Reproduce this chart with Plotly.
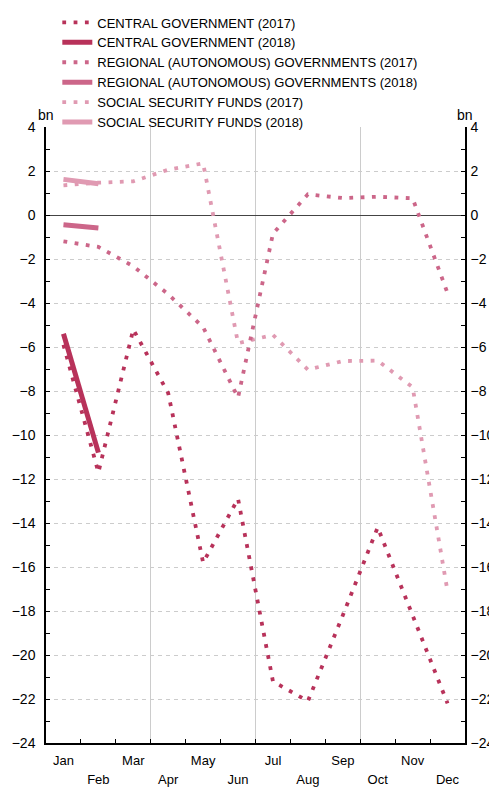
import plotly.graph_objects as go

months = ["Jan", "Feb", "Mar", "Apr", "May", "Jun",
          "Jul", "Aug", "Sep", "Oct", "Nov", "Dec"]

central_2017 = [-5.9, -11.7, -5.2, -8.1, -15.8, -12.9, -21.2, -22.1, -18.2, -14.2, -18.2, -22.2]
central_2018 = [-5.4, -10.8]
regional_2017 = [-1.2, -1.45, -2.33, -3.6, -5.1, -8.3, -0.85, 0.94, 0.77, 0.83, 0.76, -3.55]
regional_2018 = [-0.44, -0.59]
social_2017 = [1.35, 1.47, 1.53, 2.06, 2.35, -5.83, -5.45, -7.03, -6.64, -6.62, -7.83, -17.1]
social_2018 = [1.62, 1.42]

c_central = "#b8325a"
c_regional = "#cc6689"
c_social = "#e09ab2"

dot = "3.8px,7.5px"
font = "Liberation Sans, Arial, sans-serif"

x = list(range(len(months)))

# (name, values, colour, dash, xaxis, yaxis) - the extra axes all share one range,
# spreading the traces over them just makes plotly draw every axis
series = [
    ("CENTRAL GOVERNMENT (2017)", central_2017, c_central, dot, "x", "y"),
    ("CENTRAL GOVERNMENT (2018)", central_2018, c_central, "solid", "x2", "y"),
    ("REGIONAL (AUTONOMOUS) GOVERNMENTS (2017)", regional_2017, c_regional, dot, "x3", "y"),
    ("REGIONAL (AUTONOMOUS) GOVERNMENTS (2018)", regional_2018, c_regional, "solid", "x", "y2"),
    ("SOCIAL SECURITY FUNDS (2017)", social_2017, c_social, dot, "x", "y"),
    ("SOCIAL SECURITY FUNDS (2018)", social_2018, c_social, "solid", "x", "y"),
]

fig = go.Figure()
for name, vals, col, dash, xa, ya in series:
    fig.add_trace(go.Scatter(
        x=x[:len(vals)], y=vals, name=name, mode="lines",
        xaxis=xa, yaxis=ya,
        line=dict(color=col, width=3.8 if dash != "solid" else 5, dash=dash)))

boundaries = [i + 0.5 for i in range(len(months) - 1)]
quarters = [2.5, 5.5, 8.5]
xrange = [-0.5, 11.5]

yaxis_common = dict(
    range=[-24, 4], tick0=0, dtick=2, ticks="inside", ticklen=4,
    tickcolor="black", showline=True, linecolor="black", linewidth=1.5,
    minor=dict(dtick=1, ticks="inside", ticklen=4, tickcolor="black"),
    tickfont=dict(size=14, color="black"),
)

# the page body keeps its 8px margin, so the figure is 8px smaller than the window
fig.update_layout(
    width=489, height=780,
    margin=dict(l=38, r=32, t=119, b=45, autoexpand=False),
    plot_bgcolor="white", paper_bgcolor="white",
    font=dict(family=font, color="black"),
    showlegend=True,
    legend=dict(x=0.027, y=1.194, xanchor="left", yanchor="top",
                font=dict(size=13), bgcolor="rgba(0,0,0,0)"),
    xaxis=dict(
        range=xrange, tickvals=x[0::2], ticktext=months[0::2],
        ticks="", showgrid=False, zeroline=False,
        showline=True, linecolor="black", linewidth=1.5,
        tickfont=dict(size=13), ticklabelstandoff=5,
        minor=dict(tickmode="array", tickvals=boundaries, ticks="inside",
                   ticklen=4, tickcolor="black", showgrid=False),
    ),
    xaxis2=dict(
        overlaying="x", side="bottom", range=xrange,
        tickvals=x[1::2], ticktext=months[1::2], ticks="",
        showgrid=False, zeroline=False, showline=False,
        tickfont=dict(size=13), ticklabelstandoff=27,
    ),
    xaxis3=dict(
        overlaying="x", side="bottom", range=xrange,
        tickvals=quarters, showticklabels=False, ticks="",
        showgrid=True, gridcolor="#cccccc", gridwidth=1,
        zeroline=False, showline=False,
    ),
    yaxis=dict(
        **yaxis_common, ticklabelstandoff=6,
        showgrid=True, gridcolor="#cccccc", griddash="4px,4px", gridwidth=1,
        zeroline=True, zerolinecolor="#444444", zerolinewidth=1,
    ),
    yaxis2=dict(
        **yaxis_common, ticklabelstandoff=1, overlaying="y", side="right",
        showgrid=False, zeroline=False,
    ),
)

fig.add_annotation(text="bn", xref="paper", yref="paper", x=0, y=1,
                   yshift=12, xanchor="center", yanchor="middle",
                   showarrow=False, font=dict(size=14))
fig.add_annotation(text="bn", xref="paper", yref="paper", x=1, y=1,
                   yshift=12, xanchor="center", yanchor="middle",
                   showarrow=False, font=dict(size=14))

fig.write_html("out.html")
